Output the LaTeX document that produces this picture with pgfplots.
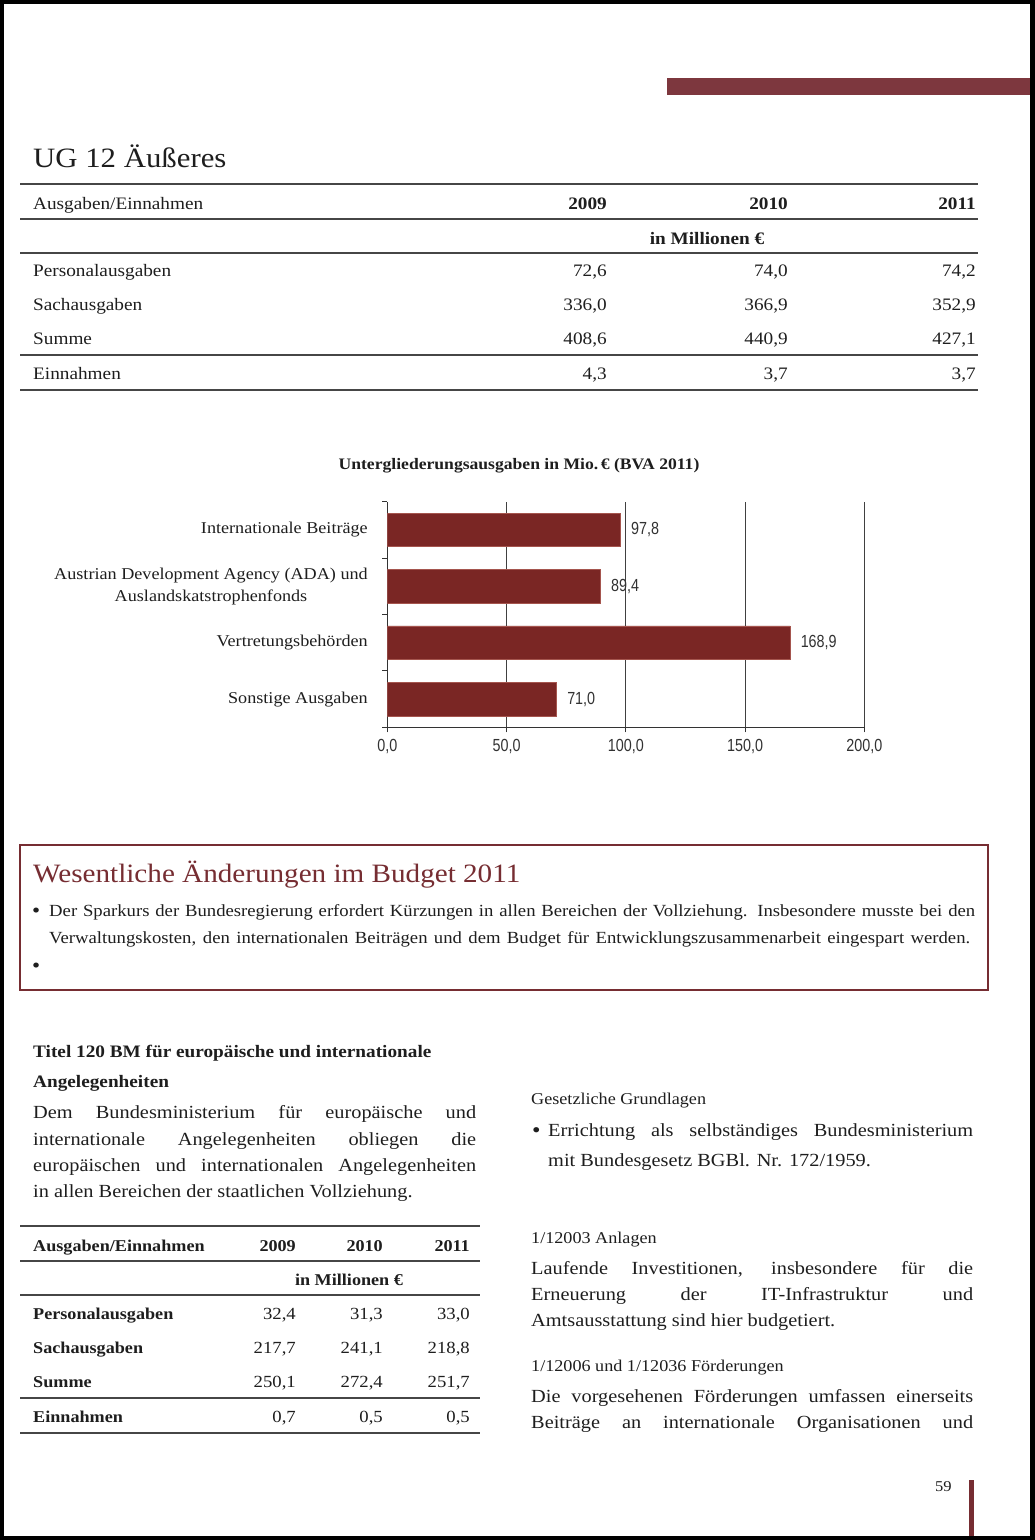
\documentclass[border=0pt]{standalone}
\usepackage{fontspec}
\setmainfont{Liberation Serif}[FakeStretch=1.1]
\newfontfamily\narrow{Liberation Sans}[FakeStretch=0.82]
\usepackage{pgfplots}
\pgfplotsset{compat=1.18}

\definecolor{barfill}{RGB}{122,38,36}
\definecolor{baredge}{RGB}{165,85,78}
\definecolor{maroon}{RGB}{118,45,50}
\definecolor{topbar}{RGB}{125,55,62}
\definecolor{txt}{RGB}{30,30,30}
\definecolor{rule}{RGB}{70,70,70}
\definecolor{numgray}{RGB}{50,50,50}

\newcommand\fs[1]{\fontsize{#1}{#1}\selectfont}

\begin{document}
\begin{tikzpicture}[x=1pt,y=1pt,
    t/.style={inner sep=0pt, anchor=base west, text=txt},
    r/.style={inner sep=0pt, anchor=base east, text=txt},
    c/.style={inner sep=0pt, anchor=base, text=txt}]

% page and scan border
\fill[black] (0,0) rectangle (1035,-1540);
\fill[white] (4,-4) rectangle (1030,-1536);
\fill[topbar] (667,-78) rectangle (1030,-95);

% heading
\node[t] at (33,-167) {\fs{28}UG 12 Äußeres};

% table 1
\begin{scope}[rule, line width=1.2pt]
  \draw (20,-184) -- (978,-184);
  \draw (20,-219) -- (978,-219);
  \draw (20,-253) -- (978,-253);
  \draw (20,-355) -- (978,-355);
  \draw (20,-390) -- (978,-390);
\end{scope}
\node[t] at (33,-209) {\fs{17.5}Ausgaben/Einnahmen};
\node[r] at (607,-209) {\fs{17.5}\bfseries 2009};
\node[r] at (788,-209) {\fs{17.5}\bfseries 2010};
\node[r] at (976,-209) {\fs{17.5}\bfseries 2011};
\node[c] at (707,-244) {\fs{17.5}\bfseries in Millionen €};
\node[t] at (33,-276) {\fs{17.5}Personalausgaben};
\node[t] at (33,-310) {\fs{17.5}Sachausgaben};
\node[t] at (33,-344) {\fs{17.5}Summe};
\node[t] at (33,-379) {\fs{17.5}Einnahmen};
\node[r] at (607,-276) {\fs{17.5}72,6};
\node[r] at (788,-276) {\fs{17.5}74,0};
\node[r] at (976,-276) {\fs{17.5}74,2};
\node[r] at (607,-310) {\fs{17.5}336,0};
\node[r] at (788,-310) {\fs{17.5}366,9};
\node[r] at (976,-310) {\fs{17.5}352,9};
\node[r] at (607,-344) {\fs{17.5}408,6};
\node[r] at (788,-344) {\fs{17.5}440,9};
\node[r] at (976,-344) {\fs{17.5}427,1};
\node[r] at (607,-379) {\fs{17.5}4,3};
\node[r] at (788,-379) {\fs{17.5}3,7};
\node[r] at (976,-379) {\fs{17.5}3,7};

% chart
\node[c] at (519,-469) {\fs{16}\bfseries Untergliederungsausgaben in Mio.\,€ (BVA 2011)};

\begin{axis}[
    at={(387.3pt,-727.3pt)}, anchor=south west,
    scale only axis,
    width=477pt, height=225.6pt,
    xbar, bar width=33.5pt,
    xmin=0, xmax=200,
    ymin=-0.5, ymax=3.5,
    axis lines*=left,
    axis line style={black!80, line width=0.9pt},
    xmajorgrids,
    grid style={black!75, line width=0.9pt},
    xtick={0,50,100,150,200},
    xticklabels={{0,0},{50,0},{100,0},{150,0},{200,0}},
    xticklabel style={font=\narrow\fs{17.5}, text=numgray, yshift=-3pt},
    ytick={0,1,2,3},
    yticklabels={Sonstige Ausgaben, Vertretungsbehörden,
      {Austrian Development Agency (ADA) und\\Auslandskatstrophenfonds},
      Internationale Beiträge},
    yticklabel style={font=\fontsize{16.5}{22.5}\selectfont, align=center,
      text=txt, xshift=-11pt},
    minor ytick={-0.5,0.5,1.5,2.5,3.5},
    tick align=outside,
    major tick length=5pt,
    minor tick length=5pt,
    major y tick style={draw=none},
    tick style={black!80, line width=0.9pt},
    point meta=explicit symbolic,
    nodes near coords={\pgfplotspointmeta},
    nodes near coords style={anchor=west, xshift=7pt,
      font=\narrow\fs{17.5}, text=numgray},
]
\addplot[fill=barfill, draw=baredge, line width=0.6pt] coordinates {
    (97.8,3) [97{,}8]
    (89.4,2) [89{,}4]
    (168.9,1) [168{,}9]
    (71.0,0) [71{,}0]
};
\end{axis}

% box
\draw[maroon, line width=1.6pt] (20,-845) rectangle (988,-990);
\node[t, text=maroon] at (33,-882) {\fs{26.5}Wesentliche Änderungen im Budget 2011};
\node[t] at (32,-917) {\fs{21}\textbullet};
\node[t] at (49,-916) {\fs{17}\makebox[926pt][s]{Der Sparkurs der Bundesregierung erfordert Kürzungen in allen Bereichen der Vollziehung. Insbesondere musste bei den}};
\node[t] at (49,-943) {\fs{17}\makebox[921pt][s]{Verwaltungskosten, den internationalen Beiträgen und dem Budget für Entwicklungszusammenarbeit eingespart werden.}};
\node[t] at (32,-972) {\fs{21}\textbullet};

% left column
\node[t] at (33,-1057) {\fs{17.5}\bfseries Titel 120 BM für europäische und internationale};
\node[t] at (33,-1087) {\fs{17.5}\bfseries Angelegenheiten};
\node[t] at (33,-1118) {\fs{18.5}\makebox[443pt][s]{Dem Bundesministerium für europäische und}};
\node[t] at (33,-1145) {\fs{18.5}\makebox[443pt][s]{internationale Angelegenheiten obliegen die}};
\node[t] at (33,-1171) {\fs{18.5}\makebox[443pt][s]{europäischen und internationalen Angelegenheiten}};
\node[t] at (33,-1197) {\fs{18.5}in allen Bereichen der staatlichen Vollziehung.};

% table 2
\begin{scope}[rule, line width=1.2pt]
  \draw (20,-1226) -- (480,-1226);
  \draw (20,-1261) -- (480,-1261);
  \draw (20,-1295) -- (480,-1295);
  \draw (20,-1398) -- (480,-1398);
  \draw (20,-1433) -- (480,-1433);
\end{scope}
\node[t] at (33,-1251) {\fs{16.5}\bfseries Ausgaben/Einnahmen};
\node[r] at (296,-1251) {\fs{16.5}\bfseries 2009};
\node[r] at (383,-1251) {\fs{16.5}\bfseries 2010};
\node[r] at (470,-1251) {\fs{16.5}\bfseries 2011};
\node[c] at (349,-1285) {\fs{16.5}\bfseries in Millionen €};
\node[t] at (33,-1319) {\fs{16.5}\bfseries Personalausgaben};
\node[t] at (33,-1353) {\fs{16.5}\bfseries Sachausgaben};
\node[t] at (33,-1387) {\fs{16.5}\bfseries Summe};
\node[t] at (33,-1422) {\fs{16.5}\bfseries Einnahmen};
\node[r] at (296,-1319) {\fs{17}32,4};
\node[r] at (383,-1319) {\fs{17}31,3};
\node[r] at (470,-1319) {\fs{17}33,0};
\node[r] at (296,-1353) {\fs{17}217,7};
\node[r] at (383,-1353) {\fs{17}241,1};
\node[r] at (470,-1353) {\fs{17}218,8};
\node[r] at (296,-1387) {\fs{17}250,1};
\node[r] at (383,-1387) {\fs{17}272,4};
\node[r] at (470,-1387) {\fs{17}251,7};
\node[r] at (296,-1422) {\fs{17}0,7};
\node[r] at (383,-1422) {\fs{17}0,5};
\node[r] at (470,-1422) {\fs{17}0,5};

% right column
\node[t] at (531,-1104) {\fs{16.5}Gesetzliche Grundlagen};
\node[t] at (532,-1137) {\fs{22}\textbullet};
\node[t] at (548,-1136) {\fs{18.5}\makebox[425pt][s]{Errichtung als selbständiges Bundesministerium}};
\node[t] at (548,-1166) {\fs{18.5}mit Bundesgesetz BGBl. Nr. 172/1959.};
\node[t] at (531,-1243) {\fs{16.5}1/12003 Anlagen};
\node[t] at (531,-1274) {\fs{18.5}\makebox[442pt][s]{Laufende Investitionen, insbesondere für die}};
\node[t] at (531,-1300) {\fs{18.5}\makebox[442pt][s]{Erneuerung der IT-Infrastruktur und}};
\node[t] at (531,-1326) {\fs{18.5}Amtsausstattung sind hier budgetiert.};
\node[t] at (531,-1371) {\fs{16.5}1/12006 und 1/12036 Förderungen};
\node[t] at (531,-1402) {\fs{18.5}\makebox[442pt][s]{Die vorgesehenen Förderungen umfassen einerseits}};
\node[t] at (531,-1428) {\fs{18.5}\makebox[442pt][s]{Beiträge an internationale Organisationen und}};

% page number
\node[t] at (935,-1491) {\fs{15}59};
\fill[maroon] (969,-1480) rectangle (974,-1536);

\useasboundingbox (0,0) rectangle (1035,-1540);
\end{tikzpicture}
\end{document}
